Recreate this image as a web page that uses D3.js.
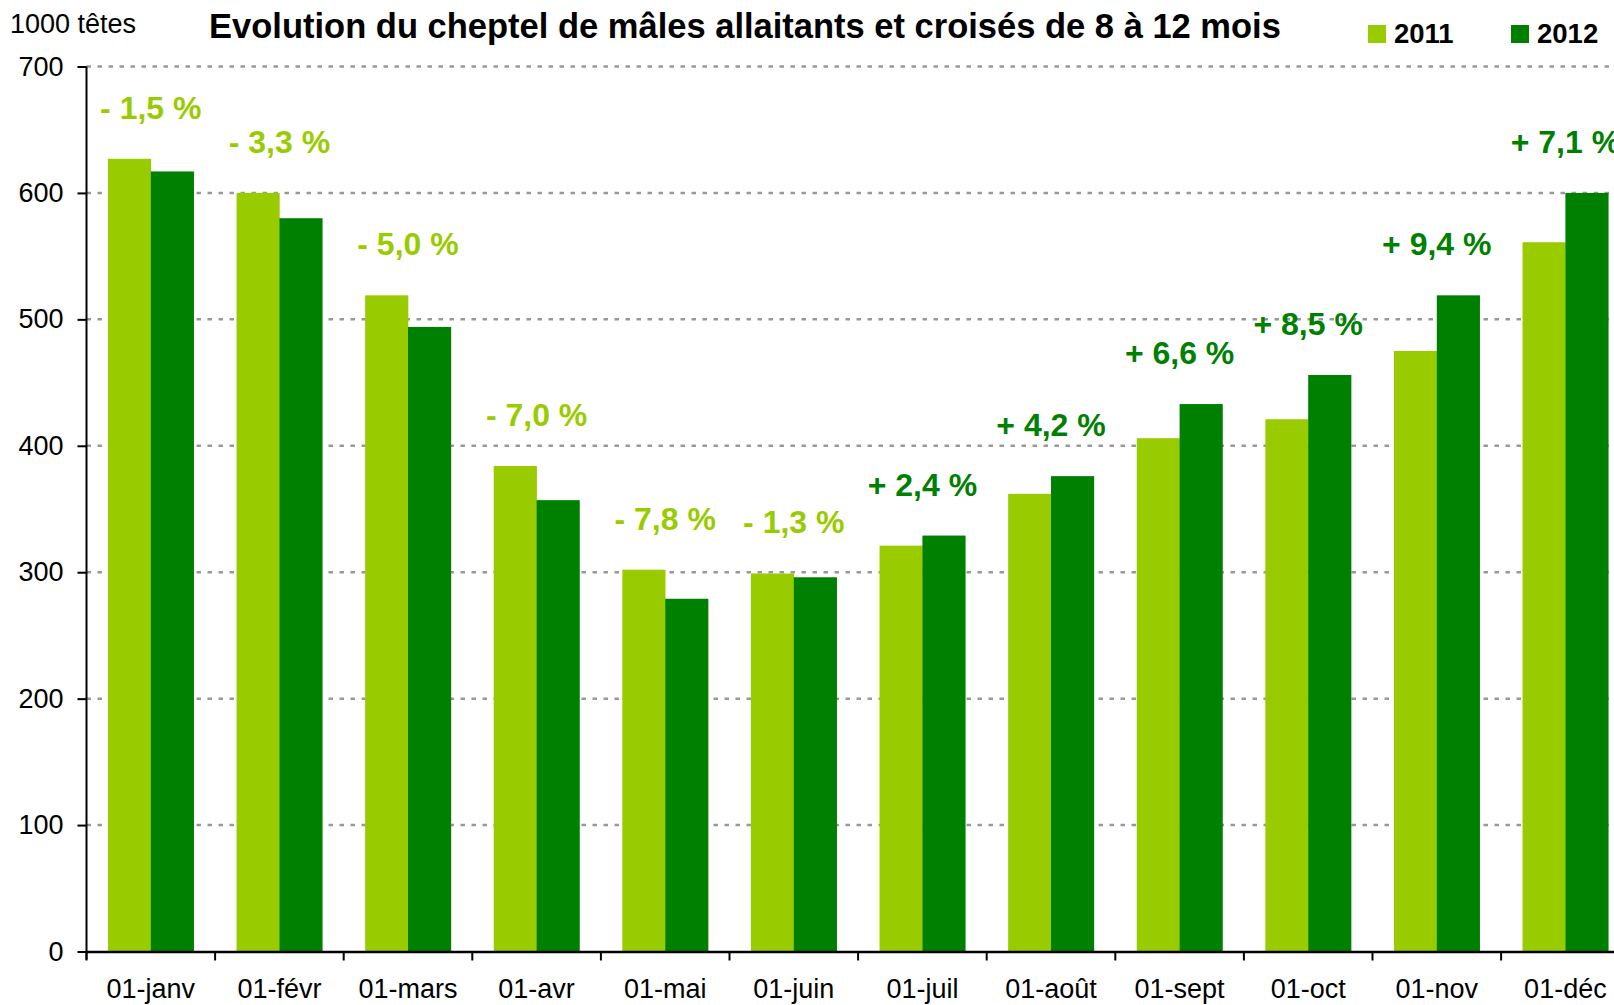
<!DOCTYPE html>
<html>
<head>
<meta charset="utf-8">
<script src="https://cdn.jsdelivr.net/npm/d3@7"></script>
<style>
  body { margin: 0; background: #fff; }
  svg { display: block; font-family: "Liberation Sans", Arial, sans-serif; }
</style>
</head>
<body>
<div id="chart"></div>
<script>
// data
var months = ['01-janv', '01-févr', '01-mars', '01-avr', '01-mai', '01-juin',
              '01-juil', '01-août', '01-sept', '01-oct', '01-nov', '01-déc']
var series = ['2011', '2012']
var values2011 = [627, 600, 519, 384, 302, 299, 321, 362, 406, 421, 475, 561]
var values2012 = [617, 580, 494, 357, 279, 296, 329, 376, 433, 456, 519, 600]
var changes = [-1.5, -3.3, -5.0, -7.0, -7.8, -1.3, 2.4, 4.2, 6.6, 8.5, 9.4, 7.1]
var yTicks = [0, 100, 200, 300, 400, 500, 600, 700]

var colors = {'2011': '#99cc00', '2012': '#008000'}

var width = 1614, height = 1005
var plotLeft = 86.5, plotTop = 66.5, plotBottom = 951.5, step = 128.6

var svg = d3.select('#chart').append('svg')
  .attr('width', width).attr('height', height)
  .style('overflow', 'hidden')

var y = d3.scaleLinear().domain([0, 700]).range([plotBottom, plotTop])
var x = d3.scaleBand().domain(months).range([plotLeft, plotLeft + step * months.length])
  .paddingInner(0).paddingOuter(0)
var xs = d3.scaleBand().domain(series).range([0, x.bandwidth()])
  .paddingInner(0).paddingOuter(0.5)

var rows = months.map(function(m, i) {
  return {month: m, '2011': values2011[i], '2012': values2012[i], change: changes[i]}
})

// gridlines
svg.append('g').selectAll('line').data(yTicks.filter(function(d) { return d > 0 }))
  .enter().append('line')
  .attr('x1', plotLeft).attr('x2', width + 20)
  .attr('y1', function(d) { return y(d) }).attr('y2', function(d) { return y(d) })
  .attr('stroke', '#999').attr('stroke-width', 2.5).attr('stroke-dasharray', '4.5,6.5')

// bars
var groups = svg.append('g').selectAll('g').data(rows).enter().append('g')
  .attr('transform', function(d) { return 'translate(' + x(d.month) + ',0)' })
groups.selectAll('rect').data(function(d) {
    return series.map(function(s) { return {key: s, value: d[s]} })
  })
  .enter().append('rect')
  .attr('x', function(d) { return xs(d.key) })
  .attr('width', xs.bandwidth() + 0.3)
  .attr('y', function(d) { return y(d.value) })
  .attr('height', function(d) { return plotBottom - y(d.value) })
  .attr('fill', function(d) { return colors[d.key] })

// percentage labels
function fmtChange(v) {
  return (v < 0 ? '- ' : '+ ') + d3.format('.1f')(Math.abs(v)).replace('.', ',') + ' %'
}
svg.append('g').selectAll('text').data(rows).enter().append('text')
  .attr('x', function(d) { return x(d.month) + x.bandwidth() / 2 })
  .attr('y', function(d) { return y(Math.max(d['2011'], d['2012'])) - 40 })
  .attr('text-anchor', 'middle')
  .attr('font-size', 32).attr('font-weight', 'bold')
  .attr('fill', function(d) { return d.change < 0 ? colors['2011'] : colors['2012'] })
  .text(function(d) { return fmtChange(d.change) })

// y axis
var yAxis = svg.append('g').attr('transform', 'translate(' + plotLeft + ',0)')
  .call(d3.axisLeft(y).tickValues(yTicks).tickSize(9).tickPadding(14).tickFormat(d3.format('d')))
yAxis.select('.domain').attr('stroke', '#000').attr('stroke-width', 2)
  .attr('d', 'M0,' + (plotBottom + 8) + 'V' + plotTop)
yAxis.selectAll('.tick line').attr('stroke', '#000').attr('stroke-width', 2)
yAxis.selectAll('.tick text').attr('font-size', 27).attr('fill', '#000')
  .attr('font-family', '"Liberation Sans", Arial, sans-serif')

// x axis
var xAxis = svg.append('g').attr('transform', 'translate(0,' + plotBottom + ')')
  .call(d3.axisBottom(x).tickSize(0).tickPadding(27))
xAxis.select('.domain').attr('stroke', '#000').attr('stroke-width', 2.5)
xAxis.selectAll('.tick text').attr('font-size', 27).attr('fill', '#000')
  .attr('font-family', '"Liberation Sans", Arial, sans-serif')
xAxis.selectAll('.sep').data(months).enter().append('line')
  .attr('class', 'sep')
  .attr('x1', function(d) { return x(d) }).attr('x2', function(d) { return x(d) })
  .attr('y1', 0).attr('y2', 9)
  .attr('stroke', '#000').attr('stroke-width', 2)

// titles
svg.append('text').attr('x', 10).attr('y', 33)
  .attr('font-size', 27).text('1000 têtes')
svg.append('text').attr('x', 745).attr('y', 38).attr('text-anchor', 'middle')
  .attr('font-size', 34.5).attr('font-weight', 'bold')
  .text('Evolution du cheptel de mâles allaitants et croisés de 8 à 12 mois')

// legend
var legendX = [1368, 1511]
var legend = svg.append('g').selectAll('g').data(series).enter().append('g')
  .attr('transform', function(d, i) { return 'translate(' + legendX[i] + ',25)' })
legend.append('rect').attr('width', 18).attr('height', 18)
  .attr('fill', function(d) { return colors[d] })
legend.append('text').attr('x', 26).attr('y', 18)
  .attr('font-size', 27.5).attr('font-weight', 'bold').text(function(d) { return d })
</script>
</body>
</html>
